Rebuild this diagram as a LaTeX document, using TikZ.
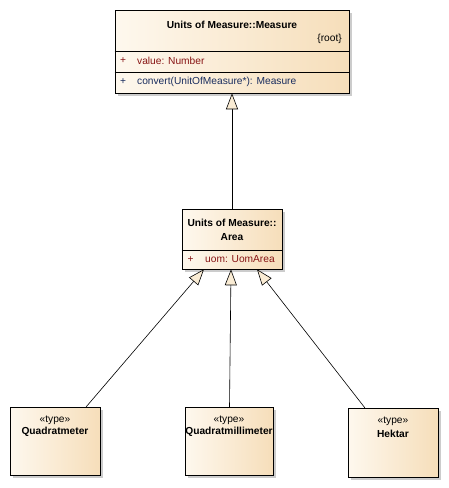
\documentclass[tikz,border=0pt]{standalone}
\usepackage{fontspec}
\setmainfont{Liberation Sans}
\usetikzlibrary{arrows.meta, positioning, shadows, calc}
\definecolor{boxleft}{RGB}{254,248,238}
\definecolor{boxright}{RGB}{246,222,186}
\definecolor{attrred}{RGB}{135,20,20}
\definecolor{opblue}{RGB}{25,45,95}
\definecolor{tipfill}{RGB}{250,236,212}

\begin{document}
\begin{tikzpicture}[
    x=1pt, y=-1pt,
    umlbox/.style={rectangle, draw=black, line width=0.6pt, left color=boxleft, right color=boxright, inner sep=0pt, drop shadow={shadow xshift=3pt, shadow yshift=-3pt, fill=black!25, opacity=0.8}},
    titletext/.style={font=\bfseries\fontsize{10.2}{13.5}\selectfont, inner sep=0pt, align=center},
    bodytext/.style={font=\fontsize{10.2}{12}\selectfont, inner sep=0pt},
    gen/.style={line width=0.6pt, -{Triangle[length=16pt, width=12pt, fill=tipfill]}}
]
\useasboundingbox (0,0) rectangle (448,488);

% Nodes
\node [umlbox, minimum width=234pt, minimum height=83pt] (measure) at (232,51.5) {};
\node [umlbox, minimum width=100pt, minimum height=60pt] (area) at (232,239) {};
\node [umlbox, minimum width=90pt, minimum height=68pt] (qm) at (55,441) {};
\node [umlbox, minimum width=88pt, minimum height=68pt] (qmm) at (229,441) {};
\node [umlbox, minimum width=90pt, minimum height=69pt] (ha) at (393,442.5) {};

% Compartments
\draw [line width=0.6pt] (measure.west |- 0,51) -- (measure.east |- 0,51);
\draw [line width=0.6pt] (measure.west |- 0,72) -- (measure.east |- 0,72);
\draw [line width=0.6pt] (area.west |- 0,250) -- (area.east |- 0,250);

% Texts
\node [titletext] (measurename) at (232,25) {Units of Measure::Measure};
\node [bodytext, anchor=east] (measureroot) at (342,39) {\{root\}};
\node [bodytext, text=attrred, anchor=west] (valueplus) at (120,60.5) {+};
\node [bodytext, text=attrred, anchor=west] (valueattr) at (137,60.5) {value: Number};
\node [bodytext, text=opblue, anchor=west] (convplus) at (120,81.5) {+};
\node [bodytext, text=opblue, anchor=west] (convop) at (137,81.5) {convert(UnitOfMeasure*): Measure};

\node [titletext] (areaname) at (232,230) {Units of Measure::\\Area};
\node [bodytext, text=attrred, anchor=west] (uomplus) at (187.5,259.5) {+};
\node [bodytext, text=attrred, anchor=west] (uomattr) at (205,259.5) {uom: UomArea};

\node [bodytext] (qmstereo) at (55,420) {«type»};
\node [titletext] (qmname) at (55,431.5) {Quadratmeter};
\node [bodytext] (qmmstereo) at (229,420) {«type»};
\node [titletext] (qmmname) at (229,431.5) {Quadratmillimeter};
\node [bodytext] (hastereo) at (393,421) {«type»};
\node [titletext] (haname) at (393,434) {Hektar};

% Connections
\coordinate (qmtop) at (86,407);
\coordinate (qmmtop) at (229.5,407);
\coordinate (hatop) at (365,408);
\draw [gen] (area.north) -- (measure.south);
\draw [gen] (qmtop) -- ($(area.south)+(-28,0)$);
\draw [gen] (qmmtop) -- ($(area.south)+(-1,0)$);
\draw [gen] (hatop) -- ($(area.south)+(25,0)$);
\end{tikzpicture}
\end{document}
